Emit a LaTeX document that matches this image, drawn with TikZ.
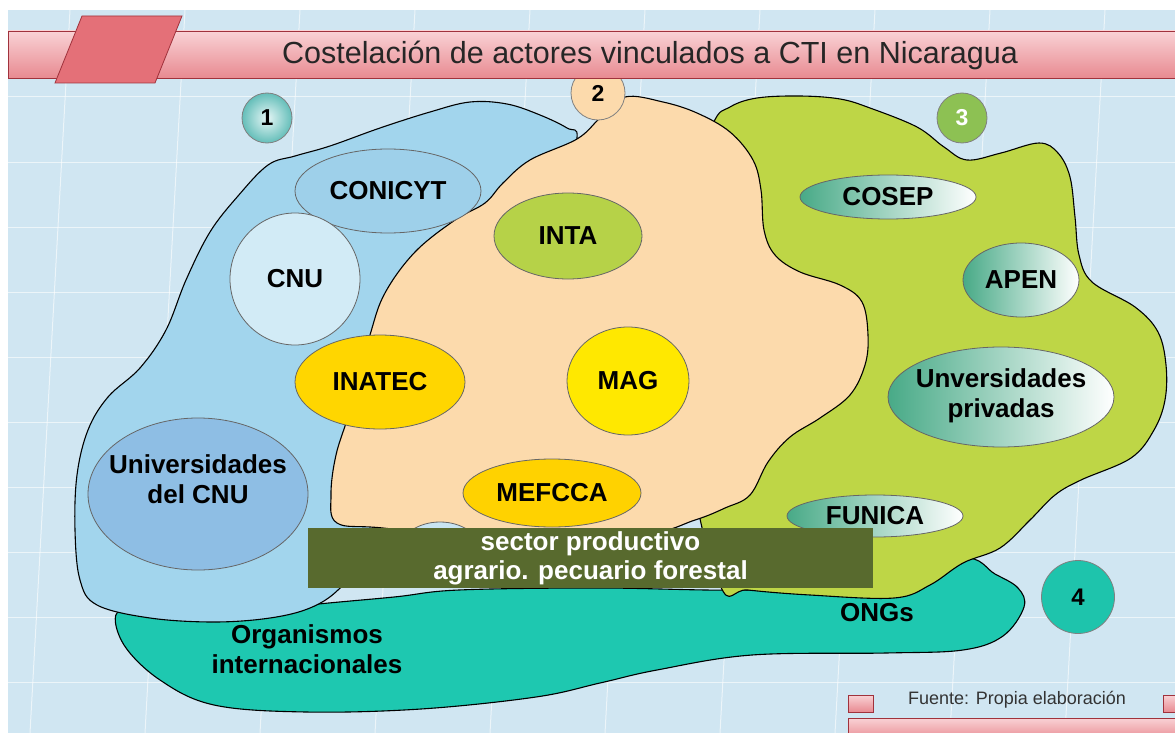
\documentclass[tikz,border=0pt]{standalone}
\usepackage{fontspec}
\setmainfont{Liberation Sans}
\usetikzlibrary{shapes.geometric}

\definecolor{fondo}{RGB}{208,230,242}
\definecolor{azulreg}{RGB}{162,213,237}
\definecolor{durazno}{RGB}{252,218,172}
\definecolor{verdereg}{RGB}{190,214,70}
\definecolor{turquesa}{RGB}{30,200,176}
\definecolor{olivo}{RGB}{88,106,46}
\definecolor{rosaclaro}{RGB}{249,210,213}
\definecolor{rosaosc}{RGB}{232,138,145}
\definecolor{rojoborde}{RGB}{160,50,60}
\definecolor{verdeag}{RGB}{72,170,135}

\tikzset{
  lab/.style={font=\fontsize{26}{30}\selectfont\bfseries, text=black, align=center},
  ell/.style={ellipse, draw=black!60, line width=0.8, inner sep=0pt},
  zona/.style={draw=black, line width=1.1},
  numero/.style={circle, draw=black!50, line width=0.8, inner sep=0pt, minimum size=50pt,
    font=\fontsize{23}{26}\selectfont\bfseries}
}

\begin{document}
\begin{tikzpicture}[x=1pt,y=-1pt]
\useasboundingbox (0,0) rectangle (1175,733);
\fill[white] (0,0) rectangle (1175,733);
\fill[fondo] (8,10) rectangle (1175,733);
\foreach \y in {97,162,227,292,357,422,487,552,617,682}
  \draw[white, opacity=0.6, line width=1] (8,\y) -- (1175,\y);
\foreach \x in {70,185,300,415,530,645,760,875,990,1105}
  \draw[white, opacity=0.6, line width=1] (\x,10) -- (\x-40,733);

\node[numero, inner color={rgb,255:red,230;green,246;blue,246}, outer color={rgb,255:red,100;green,190;blue,185}] (n1) at (267,118) {1};
\node[numero, fill={rgb,255:red,141;green,193;blue,83}, text=white] (n3) at (962,118) {3};
\node[numero, fill={rgb,255:red,30;green,196;blue,172}, minimum width=63pt, minimum height=73pt, font=\fontsize{24}{28}\selectfont\bfseries] (n4) at (1078,597) {4};

\draw[zona, fill=turquesa] plot[smooth cycle, tension=0.6] coordinates {
  (117,613) (124,645) (160,680) (214,705) (306,712) (421,709) (536,697) (600,683)
  (657,670) (752,655) (886,653) (963,650) (1003,636) (1024,607) (1018,588) (995,574)
  (963,558) (880,582) (750,590) (600,588) (459,590) (394,597) (300,606) (214,618) (150,615)};

\draw[zona, fill=azulreg] plot[smooth cycle, tension=0.6] coordinates {
  (268,165) (238,196) (210,232) (186,280) (166,330) (140,368) (108,397) (88,430)
  (77,475) (75,530) (80,580) (97,605) (150,618) (214,622) (270,618) (310,608)
  (338,590) (360,560) (400,450) (450,300) (560,200) (577,138) (567,128) (540,115)
  (507,104) (470,102) (430,112) (380,128) (330,146) (295,156)};

\draw[zona, fill=verdereg] plot[smooth cycle, tension=0.6] coordinates {
  (713,124) (730,107) (757,98) (800,96) (840,99) (870,108) (917,127) (944,147)
  (967,160) (1001,153) (1039,143) (1058,153) (1070,177) (1075,217) (1079,255)
  (1092,282) (1135,307) (1158,332) (1166,365) (1165,400) (1154,430) (1131,458)
  (1081,480) (1055,495) (1030,520) (1000,548) (963,563) (930,585) (894,598)
  (810,595) (748,590) (720,585) (690,450) (690,200)};

\draw[zona, fill=durazno] plot[smooth cycle, tension=0.6] coordinates {
  (577,139) (600,118) (625,97) (663,102) (697,113) (730,132) (753,160) (761,190)
  (764,230) (775,255) (800,272) (840,285) (862,302) (868,335) (865,365) (850,395)
  (820,418) (790,437) (768,462) (750,495) (725,508) (695,520) (640,535) (500,540)
  (383,528) (337,523) (331,495) (336,455) (350,410) (370,335) (385,293) (415,252)
  (455,220) (485,203) (503,183) (530,160)};

\node[ell, fill={rgb,255:red,200;green,228;blue,242}, minimum width=80pt, minimum height=56pt] (burbuja) at (440,550) {};

\node[numero, fill=durazno, minimum size=54pt] (n2) at (598,93) {2};

\node[ell, fill={rgb,255:red,158;green,208;blue,234}, minimum width=186pt, minimum height=84pt, lab] (conicyt) at (388,191) {CONICYT};
\node[ell, fill={rgb,255:red,210;green,235;blue,246}, minimum width=130pt, minimum height=132pt, lab] (cnu) at (295,279) {CNU};
\node[ell, fill={rgb,255:red,142;green,190;blue,228}, minimum width=220pt, minimum height=152pt] (ucnu) at (198,494) {};
\node[lab] (ucnutxt) at (198,479) {Universidades\\del CNU};
\node[ell, fill={rgb,255:red,255;green,214;blue,0}, minimum width=170pt, minimum height=94pt, lab] (inatec) at (380,382) {INATEC};
\node[ell, fill={rgb,255:red,182;green,210;blue,72}, minimum width=148pt, minimum height=86pt, lab] (inta) at (568,236) {INTA};
\node[ell, fill={rgb,255:red,255;green,232;blue,0}, minimum width=122pt, minimum height=108pt, lab] (mag) at (628,381) {MAG};
\node[ell, fill={rgb,255:red,255;green,210;blue,0}, minimum width=178pt, minimum height=68pt, lab] (mefcca) at (552,493) {MEFCCA};

\node[ell, left color=verdeag, right color=white, minimum width=176pt, minimum height=44pt, lab] (cosep) at (888,197) {COSEP};
\node[ell, left color=verdeag, right color=white, minimum width=116pt, minimum height=74pt, lab] (apen) at (1021,280) {APEN};
\node[ell, left color=verdeag, right color=white, minimum width=226pt, minimum height=100pt] (uprivadas) at (1001,397) {};
\node[lab] (uprivtxt) at (1001,396) {Unversidades\\privadas};
\node[ell, left color=verdeag, right color=white, minimum width=176pt, minimum height=42pt, lab] (funica) at (875,516) {FUNICA};

\node[fill=olivo, minimum width=565pt, minimum height=60pt, inner sep=0pt] (banda) at (590.5,558) {};
\node[lab, text=white, font=\fontsize{26}{29}\selectfont\bfseries] (bandatxt) at (banda) {sector productivo\\agrario. pecuario forestal};

\node[lab] (organismos) at (307,649) {Organismos\\internacionales};
\node[lab] (ongs) at (877,613) {ONGs};

\draw[rojoborde, line width=0.8, top color=rosaclaro, bottom color=rosaosc] (8,31) rectangle (1180,78);
\draw[rojoborde, line width=0.8, fill={rgb,255:red,228;green,112;blue,120}] (82,16) -- (182,16) -- (155,83) -- (55,83) -- cycle;
\node[font=\fontsize{30.5}{34}\selectfont, text=black!85] (titulo) at (650,55) {Costelación de actores vinculados a CTI en Nicaragua};

\draw[rojoborde, line width=0.8, top color=rosaclaro, bottom color=rosaosc] (848,695) rectangle (873,712);
\draw[rojoborde, line width=0.8, top color=rosaclaro, bottom color=rosaosc] (1163,695) rectangle (1180,712);
\draw[rojoborde, line width=0.8, top color=rosaclaro, bottom color=rosaosc] (848,718) rectangle (1180,740);
\node[font=\fontsize{18}{20}\selectfont, text=black!80] (fuente) at (1017,700) {Fuente: Propia elaboración};
\end{tikzpicture}
\end{document}
